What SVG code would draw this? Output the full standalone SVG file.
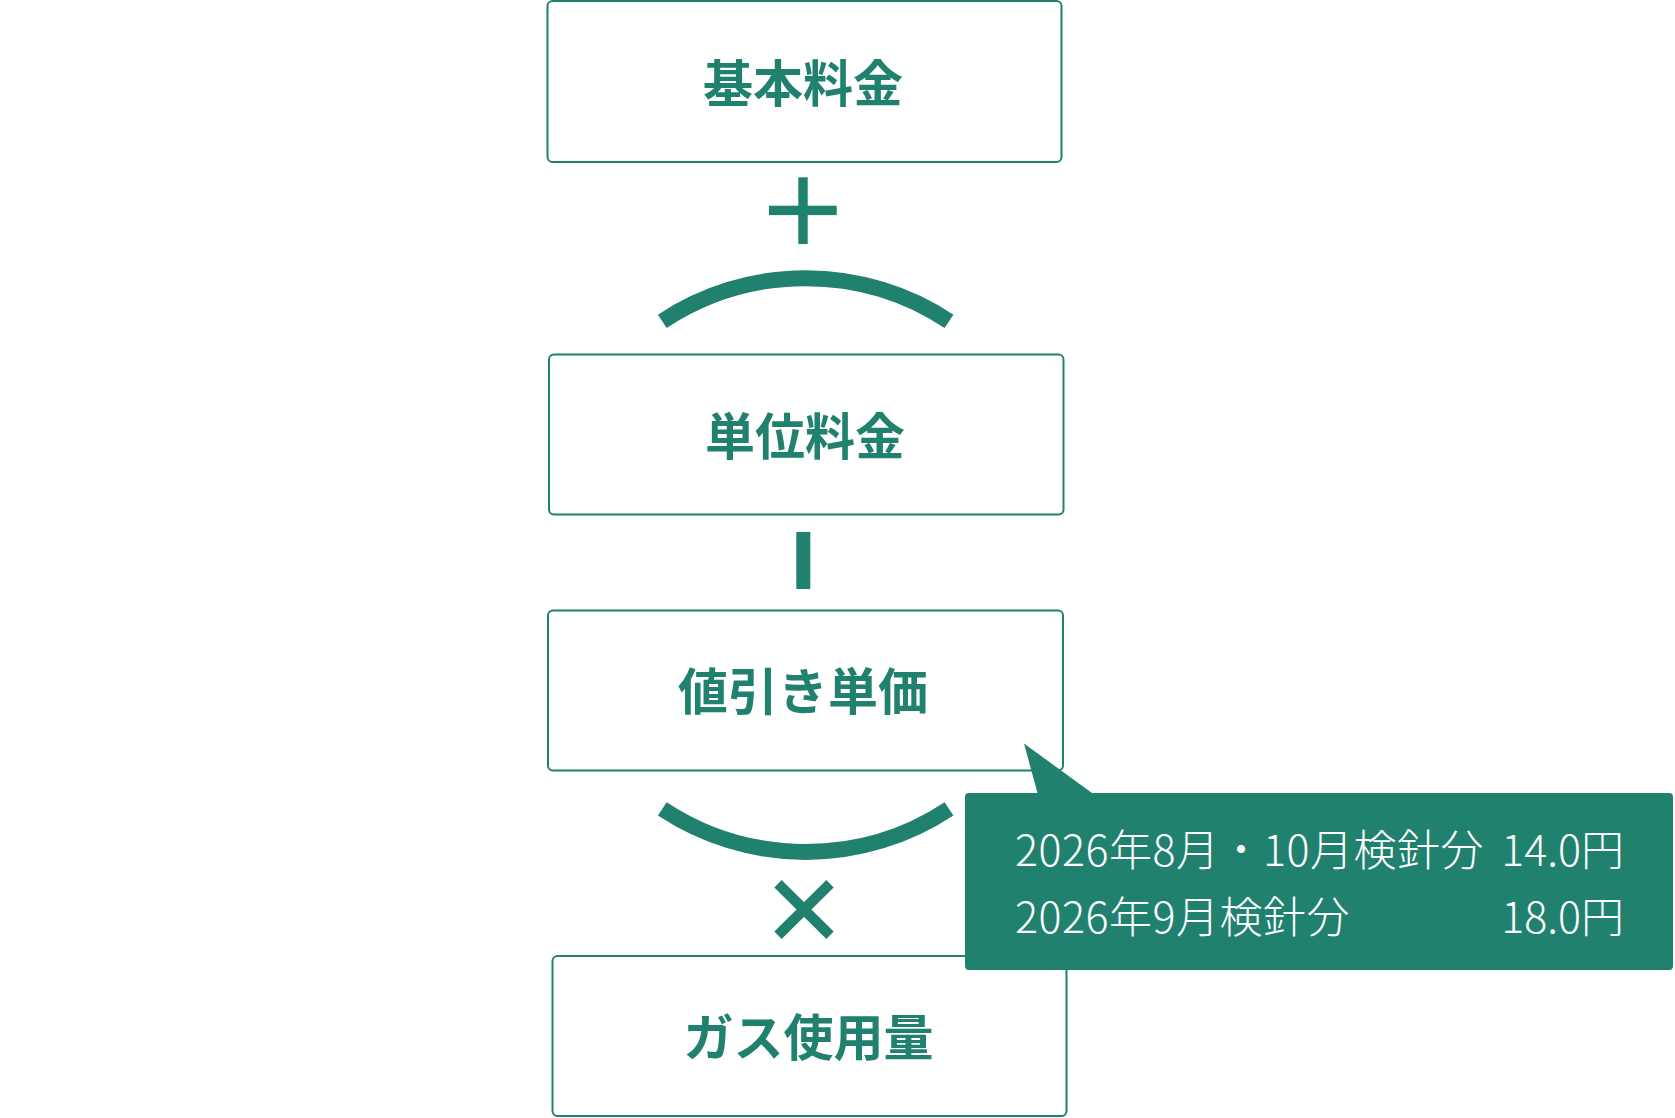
<svg xmlns="http://www.w3.org/2000/svg" width="1675" height="1118" viewBox="0 0 1675 1118">
<style>
.box{fill:#fff;stroke:#21816f;stroke-width:2}
.lbl{font-family:"Noto Sans CJK JP","Noto Sans",sans-serif;font-weight:700;font-size:50px;fill:#21816f;text-anchor:middle}
.op{fill:#21816f}
.arc{fill:none;stroke:#21816f;stroke-width:16;stroke-linecap:butt}
.cl{font-family:"Noto Sans CJK JP","Noto Sans",sans-serif;font-weight:300;font-size:43px;fill:#fff}
.sp{letter-spacing:0.5px}
</style>
<rect width="1675" height="1118" fill="#fff"/>
<g id="node-kihon">
<rect class="box" x="547.5" y="1" width="514" height="161" rx="5"/>
<text class="lbl" x="803" y="102">基本料金</text>
</g>
<g id="node-tani">
<rect class="box" x="549" y="354.5" width="514.5" height="160" rx="5"/>
<text class="lbl" x="805" y="455">単位料金</text>
</g>
<g id="node-nebiki">
<rect class="box" x="548" y="610.5" width="515" height="160" rx="5"/>
<text class="lbl" x="803" y="710">値引き単価</text>
</g>
<g id="node-gas">
<rect class="box" x="552.5" y="956" width="514" height="160" rx="5"/>
<text class="lbl" x="808.5" y="1056">ガス使用量</text>
</g>
<g id="connectors">
<rect class="op" x="798.3" y="177.3" width="9.4" height="66.7"/>
<rect class="op" x="769" y="205.7" width="67.7" height="9.4"/>
<path class="arc" d="M662.3 321.3 A260 260 0 0 1 949 321.3"/>
<rect class="op" x="796.3" y="532" width="14" height="57"/>
<path class="arc" d="M662.3 808.8 A260 260 0 0 0 949 808.8"/>
<path d="M778 883.7 L830 935.3 M830 883.7 L778 935.3" stroke="#21816f" stroke-width="10.4" fill="none"/>
</g>
<g id="node-callout">
<path d="M969 793 H1037.5 L1024 743.5 L1092 793 H1669 Q1673 793 1673 797 V966 Q1673 970 1669 970 H969 Q965 970 965 966 V797 Q965 793 969 793 Z" fill="#21816f"/>
<text class="cl sp" x="1015" y="866">2026年8月・10月検針分</text>
<text class="cl" x="1624" y="866" text-anchor="end">14.0円</text>
<text class="cl sp" x="1015" y="933">2026年9月検針分</text>
<text class="cl" x="1624" y="933" text-anchor="end">18.0円</text>
</g>
</svg>
